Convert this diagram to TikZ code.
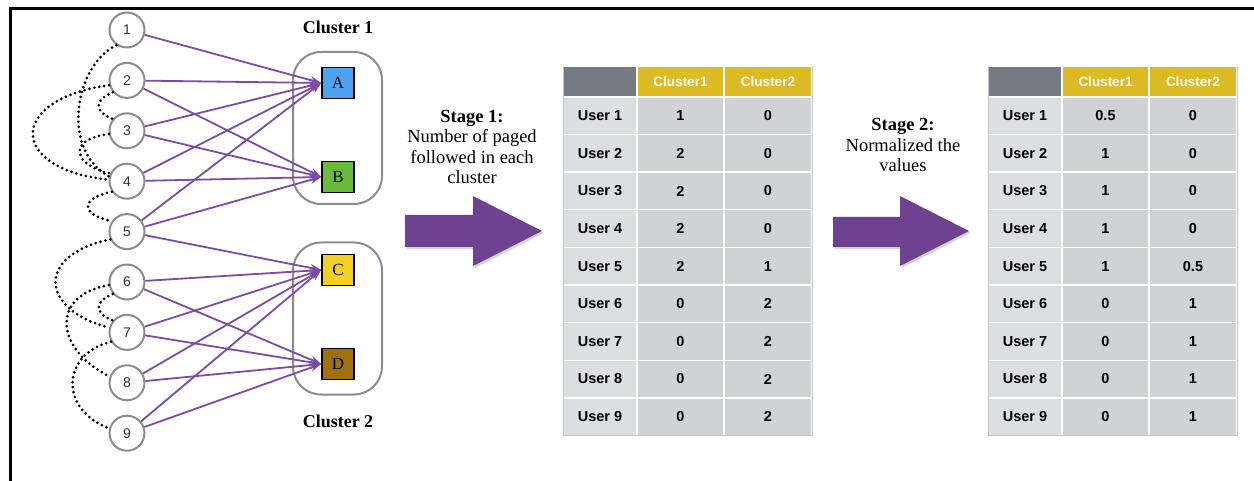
\documentclass[tikz,border=0pt]{standalone}
\usepackage{fontspec}
\setmainfont{Liberation Serif}
\setsansfont{Liberation Sans}
\usetikzlibrary{arrows.meta,shadows}

\definecolor{edgepurple}{HTML}{7D4AA8}
\definecolor{bigarrow}{HTML}{6E4290}
\definecolor{boxA}{HTML}{4DA3F0}
\definecolor{boxB}{HTML}{68BC3A}
\definecolor{boxC}{HTML}{F3CF27}
\definecolor{boxD}{HTML}{A0720F}
\definecolor{hdgray}{HTML}{767B83}
\definecolor{hdgold}{HTML}{DCBA24}
\definecolor{lblgray}{HTML}{DDDEE0}
\definecolor{cellgray}{HTML}{D1D2D4}
\definecolor{ringgray}{HTML}{8C8C8C}
\definecolor{framegray}{HTML}{C4C4C4}

\tikzset{
  user/.style={circle, draw=ringgray, line width=2pt, fill=white,
    minimum size=35pt, inner sep=0pt, text=black!80,
    font=\sffamily\fontsize{14}{14}\selectfont},
  page/.style={rectangle, draw=black, line width=1.8pt,
    minimum width=32pt, minimum height=31pt, inner sep=0pt,
    font=\fontsize{17}{17}\selectfont},
  clusterbox/.style={rectangle, rounded corners=28pt, draw=gray!90,
    line width=2pt, minimum width=89pt, minimum height=152pt},
  clusterlabel/.style={font=\bfseries\fontsize{18}{18}\selectfont},
  edge/.style={draw=edgepurple, line width=1.8pt,
    -{Stealth[length=11pt,width=8pt]}},
  link/.style={draw=black, line width=3pt, line cap=round,
    dash pattern=on 0pt off 5pt},
  stagetext/.style={align=center, font=\fontsize{18.5}{20.5}\selectfont},
  hdcell/.style={rectangle, draw=white, line width=1.4pt, minimum height=31pt,
    inner sep=0pt, text=white, font=\sffamily\bfseries\fontsize{13.5}{13.5}\selectfont},
  rowcell/.style={rectangle, draw=white, line width=1.4pt, minimum height=37.6pt,
    inner sep=0pt, text=black, font=\sffamily\bfseries\fontsize{14.5}{14.5}\selectfont},
  bigarrowshape/.style={fill=bigarrow,
    drop shadow={shadow xshift=1.5pt, shadow yshift=-2pt, opacity=0.35}},
}

% a user-by-cluster table placed with its left edge at #1
\newcommand{\usertable}[3]{%
  \begin{scope}[shift={(#1,0)}]
    \node[hdcell, fill=hdgray, minimum width=74pt] (#2h0) at (37,81.5) {};
    \node[hdcell, fill=hdgold, minimum width=87pt] (#2h1) at (117.5,81.5) {Cluster1};
    \node[hdcell, fill=hdgold, minimum width=88pt] (#2h2) at (205,81.5) {Cluster2};
    \foreach \u/\a/\b in {#3} {
      \pgfmathsetmacro\yc{97+37.6*(\u-0.5)}
      \node[rowcell, fill=lblgray, minimum width=74pt] (#2u\u) at (37,\yc) {User \u};
      \node[rowcell, fill=cellgray, minimum width=87pt] (#2a\u) at (117.5,\yc) {\a};
      \node[rowcell, fill=cellgray, minimum width=88pt] (#2b\u) at (205,\yc) {\b};
    }
    \draw[framegray, line width=1pt] (0,66) -- (0,435.4) -- (249,435.4) -- (249,66);
  \end{scope}}

\begin{document}
\begin{tikzpicture}[x=1pt,y=-1pt]
\useasboundingbox (0,0) rectangle (1254,481);

% frame lines
\draw[line width=3pt] (10,481) -- (10,8.7) -- (1254,8.7);

% clusters
\node[clusterbox] (k1) at (337.5,128) {};
\node[clusterbox] (k2) at (337.5,318.5) {};
\node[clusterlabel] (k1lbl) at (338,27) {Cluster 1};
\node[clusterlabel] (k2lbl) at (338,421) {Cluster 2};

% pages
\node[page, fill=boxA] (A) at (338,83) {A};
\node[page, fill=boxB] (B) at (338,177) {B};
\node[page, fill=boxC] (C) at (338,270) {C};
\node[page, fill=boxD] (D) at (338,364) {D};

% users
\foreach \i in {1,...,9} {
  \node[user] (u\i) at (127,{30+50.4*(\i-1)}) {\i};
}

% follow edges
\foreach \s/\t in {1/A, 2/A, 2/B, 3/A, 3/B, 4/A, 4/B, 5/A, 5/B, 5/C,
                   6/C, 6/D, 7/C, 7/D, 8/C, 8/D, 9/C, 9/D} {
  \draw[edge] (u\s) -- (\t.west);
}

% user-user links
\draw[link] (u1.235) .. controls (75,65) and (60,150) .. (u4.165);
\draw[link] (u2.195) .. controls (5,100) and (10,170) .. (u4.175);
\draw[link] (u2.220) .. controls (94,100) and (94,112) .. (u3.140);
\draw[link] (u3.190) .. controls (65,140) and (75,166) .. (u4.155);
\draw[link] (u4.215) .. controls (80,198) and (80,215) .. (u5.145);
\draw[link] (u5.205) .. controls (35,255) and (40,310) .. (u7.165);
\draw[link] (u6.190) .. controls (50,295) and (55,350) .. (u8.160);
\draw[link] (u6.220) .. controls (94,302) and (94,313) .. (u7.140);
\draw[link] (u7.210) .. controls (60,355) and (60,410) .. (u9.165);

% stage 1
\node[stagetext] (s1) at (472,147) {\textbf{Stage 1:}\\Number of paged\\followed in each\\cluster};
\fill[bigarrowshape] (405,215) -- (473,215) -- (473,196) -- (542,231)
  -- (473,266) -- (473,247) -- (405,247) -- cycle;
\usertable{563}{p}{1/1/0, 2/2/0, 3/2/0, 4/2/0, 5/2/1, 6/0/2, 7/0/2, 8/0/2, 9/0/2}

% stage 2
\node[stagetext] (s2) at (903,145) {\textbf{Stage 2:}\\Normalized the\\values};
\fill[bigarrowshape] (833,217) -- (900,217) -- (900,196) -- (969,231)
  -- (900,266) -- (900,247) -- (833,247) -- cycle;
\usertable{988}{n}{1/0.5/0, 2/1/0, 3/1/0, 4/1/0, 5/1/0.5, 6/0/1, 7/0/1, 8/0/1, 9/0/1}

\end{tikzpicture}
\end{document}
